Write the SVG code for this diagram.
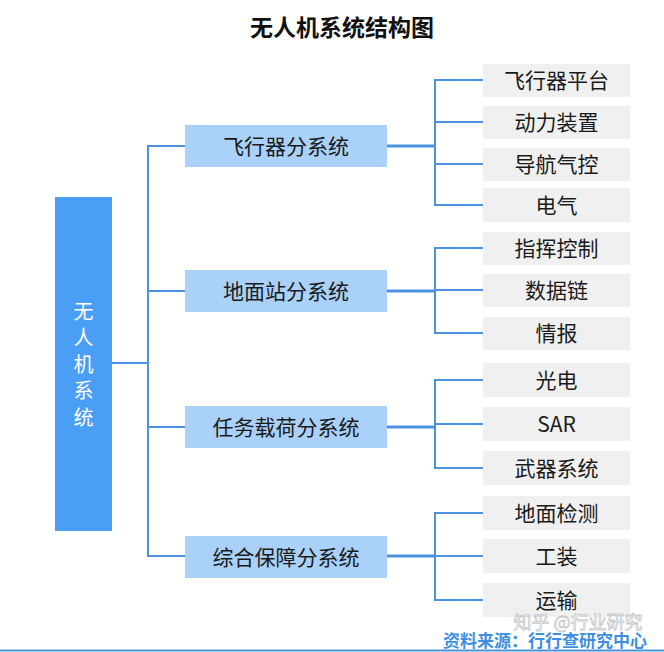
<svg xmlns="http://www.w3.org/2000/svg" width="664" height="652" viewBox="0 0 664 652">
<style>
text{font-family:"Noto Sans CJK SC","Liberation Sans",sans-serif;text-anchor:middle;dominant-baseline:central}
.mid rect{fill:#a9d1f9}
.mid text{font-size:21px;fill:#1a1a1a}
.leaf rect{fill:#f0f0f0}
.leaf text{font-size:21px;fill:#1a1a1a}
.con line{stroke:#4b93e0;stroke-width:2}
.con .thick{stroke-width:3}
</style>
<rect width="664" height="652" fill="#fff"/>
<text x="342" y="26" font-size="23" font-weight="bold" fill="#111">无人机系统结构图</text>
<g class="con">
<line x1="112" y1="363" x2="148" y2="363"/>
<line x1="148" y1="145" x2="148" y2="557"/>
<line x1="147" y1="146" x2="185" y2="146"/>
<line x1="147" y1="291" x2="185" y2="291"/>
<line x1="147" y1="427" x2="185" y2="427"/>
<line x1="147" y1="556" x2="185" y2="556"/>
<line class="thick" x1="387" y1="146" x2="435" y2="146"/>
<line class="thick" x1="387" y1="291" x2="435" y2="291"/>
<line class="thick" x1="387" y1="427" x2="435" y2="427"/>
<line class="thick" x1="387" y1="556" x2="435" y2="556"/>
<line x1="435" y1="79" x2="435" y2="206"/>
<line x1="435" y1="247" x2="435" y2="334"/>
<line x1="435" y1="379" x2="435" y2="469"/>
<line x1="435" y1="512" x2="435" y2="601"/>
<line x1="434" y1="80" x2="483" y2="80"/>
<line x1="434" y1="122" x2="483" y2="122"/>
<line x1="434" y1="164" x2="483" y2="164"/>
<line x1="434" y1="205" x2="483" y2="205"/>
<line x1="434" y1="248" x2="483" y2="248"/>
<line x1="434" y1="290" x2="483" y2="290"/>
<line x1="434" y1="333" x2="483" y2="333"/>
<line x1="434" y1="380" x2="483" y2="380"/>
<line x1="434" y1="424" x2="483" y2="424"/>
<line x1="434" y1="468" x2="483" y2="468"/>
<line x1="434" y1="513" x2="483" y2="513"/>
<line x1="434" y1="556" x2="483" y2="556"/>
<line x1="434" y1="600" x2="483" y2="600"/>
</g>
<g id="root">
<rect x="55" y="197" width="57" height="334" fill="#4a9ef5"/>
<g font-size="20" fill="#fff">
<text x="83.5" y="310">无</text>
<text x="83.5" y="336.5">人</text>
<text x="83.5" y="363">机</text>
<text x="83.5" y="389.5">系</text>
<text x="83.5" y="416">统</text>
</g>
</g>
<g id="m1" class="mid"><rect x="185" y="125" width="202" height="42"/><text x="286" y="144.5">飞行器分系统</text></g>
<g id="m2" class="mid"><rect x="185" y="270" width="202" height="42"/><text x="286" y="289.5">地面站分系统</text></g>
<g id="m3" class="mid"><rect x="185" y="406" width="202" height="42"/><text x="286" y="425.5">任务载荷分系统</text></g>
<g id="m4" class="mid"><rect x="185" y="536" width="202" height="42"/><text x="286" y="555.5">综合保障分系统</text></g>
<g id="l1" class="leaf"><rect x="483" y="64" width="147" height="33"/><text x="556.5" y="79">飞行器平台</text></g>
<g id="l2" class="leaf"><rect x="483" y="106" width="147" height="33"/><text x="556.5" y="121">动力装置</text></g>
<g id="l3" class="leaf"><rect x="483" y="148" width="147" height="33"/><text x="556.5" y="163">导航气控</text></g>
<g id="l4" class="leaf"><rect x="483" y="188" width="147" height="34"/><text x="556.5" y="204">电气</text></g>
<g id="l5" class="leaf"><rect x="483" y="232" width="147" height="33"/><text x="556.5" y="247">指挥控制</text></g>
<g id="l6" class="leaf"><rect x="483" y="274" width="147" height="33"/><text x="556.5" y="289">数据链</text></g>
<g id="l7" class="leaf"><rect x="483" y="317" width="147" height="33"/><text x="556.5" y="332">情报</text></g>
<g id="l8" class="leaf"><rect x="483" y="363" width="147" height="34"/><text x="556.5" y="379">光电</text></g>
<g id="l9" class="leaf"><rect x="483" y="407" width="147" height="34"/><text x="556.5" y="423">SAR</text></g>
<g id="l10" class="leaf"><rect x="483" y="451" width="147" height="34"/><text x="556.5" y="467">武器系统</text></g>
<g id="l11" class="leaf"><rect x="483" y="496" width="147" height="34"/><text x="556.5" y="512">地面检测</text></g>
<g id="l12" class="leaf"><rect x="483" y="539" width="147" height="34"/><text x="556.5" y="555">工装</text></g>
<g id="l13" class="leaf"><rect x="483" y="583" width="147" height="34"/><text x="556.5" y="599">运输</text></g>
<text x="578" y="621" font-size="18" fill="#ffffff" stroke="#c8c8c8" stroke-width="0.8">知乎 @行业研究</text>
<text x="545" y="639" font-size="17" font-weight="bold" fill="#3d8fe2">资料来源：行行查研究中心</text>
<line x1="0" y1="650.5" x2="664" y2="650.5" stroke="#4b93e0" stroke-width="2"/>
</svg>
